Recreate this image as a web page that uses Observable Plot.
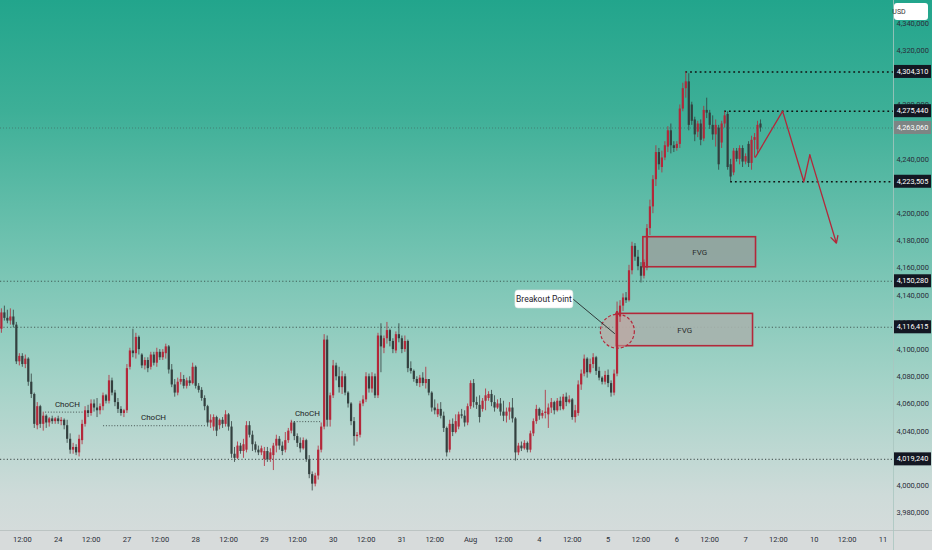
<!DOCTYPE html>
<html><head><meta charset="utf-8">
<script src="https://cdn.jsdelivr.net/npm/d3@7"></script>
<script src="https://cdn.jsdelivr.net/npm/@observablehq/plot@0.6"></script>
<style>
html,body{margin:0;padding:0;}
#chart{width:932px;height:550px;background:linear-gradient(to bottom,#22a58c 0%,#3daf97 20%,#70c2b0 45%,#a5d3c8 70%,#cedbd9 90%,#d8dcdc 100%);}
svg{display:block;}
</style></head><body><div id="chart"></div>
<script>
// ---- candle data (hourly bars, index 0..254) ----
const opens=[4115,4127,4123,4121,4124,4118,4091,4095,4089,4093,
4076,4067,4044,4058,4045,4051,4046,4049,4047,4049,
4047,4048,4044,4034,4026,4028,4024,4033,4045,4055,
4053,4060,4057,4055,4058,4066,4062,4077,4068,4061,
4056,4053,4055,4087,4099,4097,4109,4096,4088,4092,
4087,4096,4090,4098,4094,4097,4102,4085,4074,4068,
4076,4078,4073,4077,4075,4087,4073,4070,4064,4058,
4046,4043,4050,4044,4048,4045,4052,4043,4023,4020,
4029,4025,4026,4044,4037,4030,4026,4024,4019,4025,
4019,4022,4029,4034,4029,4026,4033,4040,4046,4036,
4031,4027,4033,4019,4008,4001,4007,4026,4043,4107,
4048,4066,4088,4080,4072,4080,4068,4060,4047,4036,
4037,4060,4063,4080,4071,4080,4066,4110,4101,4108,
4114,4106,4099,4111,4108,4100,4106,4086,4084,4078,
4075,4079,4075,4078,4068,4057,4052,4056,4051,4042,
4026,4045,4039,4043,4052,4051,4046,4058,4075,4061,
4059,4056,4062,4064,4067,4061,4057,4060,4054,4051,
4054,4057,4049,4024,4029,4027,4031,4026,4038,4047,
4056,4051,4053,4052,4057,4061,4055,4062,4056,4065,
4061,4063,4050,4053,4074,4082,4093,4083,4089,4094,
4084,4079,4076,4081,4075,4068,4082,4124,4132,4138,
4136,4158,4176,4168,4161,4154,4160,4189,4205,4225,
4245,4234,4241,4249,4261,4250,4248,4251,4277,4292,
4297,4280,4269,4260,4266,4255,4276,4274,4265,4258,
4263,4252,4266,4273,4236,4230,4246,4240,4248,4238,
4251,4237,4254,4247,4266];
const highs=[4130,4132,4129,4130,4129,4120,4097,4097,4096,4094,
4082,4068,4061,4059,4054,4052,4050,4051,4050,4051,
4050,4049,4048,4038,4031,4030,4037,4048,4058,4059,
4063,4063,4064,4060,4068,4067,4081,4079,4070,4064,
4058,4056,4089,4101,4115,4112,4110,4097,4094,4094,
4098,4098,4101,4100,4100,4104,4103,4089,4078,4079,
4083,4081,4079,4080,4090,4088,4075,4072,4066,4059,
4052,4052,4051,4049,4050,4055,4053,4047,4028,4032,
4031,4034,4047,4047,4040,4032,4029,4029,4028,4028,
4027,4031,4037,4036,4032,4039,4042,4048,4047,4038,
4035,4035,4034,4022,4010,4009,4029,4046,4111,4110,
4068,4092,4090,4087,4084,4082,4069,4061,4050,4039,
4062,4066,4083,4082,4083,4082,4112,4119,4110,4120,
4115,4108,4113,4119,4110,4110,4107,4091,4085,4080,
4081,4083,4087,4078,4069,4063,4060,4061,4054,4043,
4048,4049,4052,4054,4056,4055,4060,4077,4078,4065,
4066,4064,4071,4069,4070,4066,4063,4064,4062,4057,
4061,4064,4050,4031,4032,4033,4032,4040,4049,4059,
4057,4055,4070,4060,4064,4062,4064,4065,4067,4068,
4066,4064,4059,4077,4085,4096,4094,4093,4097,4095,
4087,4080,4084,4085,4077,4085,4135,4136,4141,4142,
4162,4179,4178,4173,4164,4166,4192,4210,4228,4250,
4248,4246,4253,4264,4266,4253,4253,4280,4296,4304.31,
4303,4282,4271,4268,4269,4279,4285,4276,4272,4269,
4265,4268,4275,4275,4240,4248,4248,4250,4250,4244,
4253,4257,4259,4268,4269];
const lows=[4112,4121,4119,4118,4116,4089,4088,4087,4086,4073,
4064,4042,4041,4042,4040,4042,4043,4045,4045,4045,
4044,4041,4031,4023,4023,4022,4021,4030,4043,4050,
4051,4054,4050,4052,4055,4060,4060,4066,4058,4053,
4051,4050,4053,4085,4094,4093,4096,4086,4085,4083,
4085,4088,4087,4092,4092,4093,4082,4072,4065,4066,
4074,4071,4071,4073,4074,4071,4068,4062,4055,4043,
4042,4040,4036,4041,4042,4043,4040,4020,4017,4019,
4023,4020,4024,4035,4025,4024,4022,4022,4014,4017,
4017,4011,4024,4026,4022,4024,4031,4038,4033,4028,
4024,4026,4017,4005,3996,3999,4004,4024,4041,4043,
4043,4064,4077,4068,4067,4066,4057,4044,4029,4032,
4035,4058,4061,4068,4068,4064,4064,4083,4097,4104,
4102,4097,4097,4105,4097,4098,4083,4082,4076,4073,
4072,4073,4071,4066,4054,4052,4050,4049,4039,4021,
4024,4036,4038,4041,4049,4043,4044,4056,4057,4056,
4046,4054,4055,4062,4058,4054,4056,4051,4047,4046,
4048,4046,4018,4022,4025,4026,4024,4024,4036,4045,
4048,4049,4049,4042,4053,4052,4054,4055,4055,4058,
4060,4048,4046,4051,4070,4080,4079,4082,4086,4081,
4077,4074,4074,4072,4065,4066,4080,4120,4128,4134,
4135,4155,4165,4158,4149,4152,4158,4184,4200,4220,
4232,4230,4239,4245,4244,4245,4246,4248,4275,4285,
4261,4265,4253,4256,4250,4253,4270,4262,4254,4249,
4232,4248,4263,4232,4223.5,4228,4238,4236,4234,4236,
4234,4232,4241,4244,4260];
const closes=[4127,4123,4121,4124,4118,4091,4095,4089,4093,4076,
4067,4045,4058,4045,4051,4046,4049,4047,4049,4047,
4048,4044,4034,4026,4028,4024,4034,4045,4055,4053,
4060,4057,4055,4058,4066,4062,4077,4068,4061,4056,
4053,4055,4086,4099,4097,4109,4100,4088,4092,4086,
4096,4090,4098,4094,4098,4102,4085,4074,4068,4076,
4078,4073,4077,4075,4087,4073,4070,4064,4058,4046,
4048,4050,4040,4048,4045,4052,4043,4023,4020,4029,
4025,4030,4044,4037,4030,4026,4024,4027,4025,4019,
4024,4029,4034,4029,4025,4033,4040,4046,4036,4031,
4027,4033,4019,4008,4001,4007,4026,4043,4107,4048,
4066,4088,4080,4072,4080,4068,4060,4047,4036,4037,
4060,4063,4080,4071,4080,4066,4110,4102,4108,4114,
4106,4100,4111,4108,4100,4106,4086,4084,4078,4075,
4079,4075,4078,4068,4057,4055,4056,4051,4042,4024,
4045,4039,4047,4052,4051,4046,4058,4075,4061,4059,
4050,4062,4066,4067,4061,4057,4060,4054,4051,4054,
4057,4049,4024,4029,4027,4031,4026,4038,4047,4056,
4051,4053,4054,4057,4061,4055,4062,4058,4065,4061,
4063,4050,4055,4074,4082,4093,4083,4089,4094,4084,
4079,4076,4081,4075,4068,4082,4128,4132,4138,4136,
4158,4176,4168,4161,4154,4164,4189,4205,4225,4245,
4236,4241,4250,4261,4250,4248,4251,4277,4292,4297,
4265,4268,4258,4266,4254,4276,4274,4265,4258,4265,
4236,4266,4272,4234,4227,4246,4240,4248,4238,4242,
4237,4254,4256,4265,4263.06];

// ---- time axis ----
const tickBars=[7,19,30,42,53,65,76,88,99,111,122,134,145,157,168,180,191,203,214,226,237,249,260,272,283,295];
const tickLabels=["12:00","24","12:00","27","12:00","28","12:00","29","12:00","30","12:00","31","12:00","Aug","12:00","4","12:00","5","12:00","6","12:00","7","12:00","10","12:00","11"];
// ---- price axis (ticks fully hidden under the level tags are left out) ----
const priceTicks=[3980,4000,4040,4060,4080,4100,4120,4140,4160,4180,4200,4240,4280,4320,4340];
const keyLevels=[4304.31,4275.44,4223.505];
const keyLevelStart=[229,242,244];
const wideLevels=[4150.28,4116.415,4019.24];
const lastPrice=4263.06;
// ---- annotations ----
const chochLevel=[4054,4044,4047];
const chochFrom=[14.8,34.2,97.1];
const chochTo=[28.1,68.3,107.4];
const chochTextBar=[22.1,50.9,102.4];
const fvgFrom=[214.8,205.8], fvgTo=[252.5,251.5], fvgLow=[4160.6,4102.5], fvgHigh=[4182.7,4126.3];
const fvgFill=["#95a39e","#a7b2ad"];
const breakoutBar=206.1, breakoutPrice=4113.5;
const labelBar=181.7, labelPrice=4136.9;
const pathBars=[252.3,261.4,268.5,270.5,279.4];
const pathPrices=[4241.6,4275.44,4223.505,4243.3,4178.3];

const UP="#b3283a", DOWN="#33403f";
const bars=opens.map((o,i)=>({i,o,h:highs[i],l:lows[i],c:closes[i]}));
const col=d=>d.c>=d.o?UP:DOWN;
const fmtPrice=v=>d3.format(",.3f")(v).replace(".",",");
const tickMap=new Map(tickBars.map((b,k)=>[b,tickLabels[k]]));
const X0=-0.3, X1=298.5;
const keyRows=keyLevels.map((v,k)=>({v,from:keyLevelStart[k]}));
const chochRows=chochLevel.map((v,k)=>({v,from:chochFrom[k],to:chochTo[k],t:chochTextBar[k]}));
const fvgRows=fvgFrom.map((f,k)=>({x1:f,x2:fvgTo[k],y1:fvgLow[k],y2:fvgHigh[k],fill:fvgFill[k]}));
const pathRows=pathBars.map((b,k)=>({x:b,y:pathPrices[k]}));
const FONT='Roboto, "DejaVu Sans", sans-serif';

const plot=Plot.plot({
  width:932,height:550,marginLeft:0,marginRight:39,marginTop:0,marginBottom:20,
  style:{background:"transparent",fontFamily:FONT,fontSize:"7.5px",color:"#2a2e39",overflow:"visible"},
  x:{type:"linear",domain:[X0,X1]},
  y:{type:"linear",domain:[3966.89,4356.88]},
  marks:[
    Plot.ruleY([lastPrice],{stroke:"#3a4a4a",strokeOpacity:0.45,strokeDasharray:"1,2",strokeWidth:1}),
    Plot.ruleY(wideLevels,{stroke:"#27302f",strokeOpacity:0.7,strokeDasharray:"1.2,2.2",strokeWidth:1.1}),
    Plot.ruleY(keyRows,{y:"v",x1:"from",x2:()=>X1,stroke:"#111",strokeWidth:1.6,strokeDasharray:"1.8,3"}),
    Plot.ruleY(chochRows,{y:"v",x1:"from",x2:"to",stroke:"#2b3333",strokeOpacity:0.8,strokeDasharray:"1,1.8",strokeWidth:1}),
    Plot.rect(fvgRows,{x1:"x1",x2:"x2",y1:"y1",y2:"y2",fill:"fill",fillOpacity:0.9,stroke:UP,strokeWidth:1.6}),
    Plot.dot([{x:breakoutBar,y:breakoutPrice}],{x:"x",y:"y",r:17,fill:"#c7a29f",fillOpacity:0.55,stroke:UP,strokeWidth:1.2,strokeDasharray:"3,2"}),
    Plot.ruleX(bars,{x:"i",y1:"l",y2:"h",stroke:col,strokeWidth:1,strokeOpacity:0.8}),
    Plot.ruleX(bars,{x:"i",y1:"o",y2:"c",stroke:col,strokeWidth:2.2,strokeLinecap:"butt"}),
    Plot.line(pathRows.slice(0,4),{x:"x",y:"y",stroke:UP,strokeWidth:1.3}),
    Plot.arrow([{x1:pathBars[3],y1:pathPrices[3],x2:pathBars[4],y2:pathPrices[4]}],{x1:"x1",y1:"y1",x2:"x2",y2:"y2",stroke:UP,strokeWidth:1.3,headLength:9,headAngle:55}),
    Plot.text(chochRows,{x:"t",y:"v",text:()=>"ChoCH",dy:-8,fontSize:8,fill:"#1e2424"}),
    Plot.text(fvgRows,{x:d=>(d.x1+d.x2)/2,y:d=>(d.y1+d.y2)/2,text:()=>"FVG",fontSize:8,fill:"#2a2e2e"}),
    Plot.axisX({ticks:tickBars,tickSize:0,tickPadding:6,tickFormat:d=>tickMap.get(d),fontSize:7.5}),
    Plot.axisY({anchor:"right",ticks:priceTicks,tickSize:0,tickPadding:3,tickFormat:fmtPrice,fontSize:7.5})
  ]
});
document.getElementById("chart").appendChild(plot);

// ---- overlays positioned with the plot's own scales ----
const svg=d3.select(plot);
const xs=plot.scale("x"), ys=plot.scale("y");
const px=v=>xs.apply(v), py=v=>ys.apply(v);
const right=px(X1);
svg.insert("rect",":first-child").attr("x",0).attr("y",530).attr("width",932).attr("height",20).attr("fill","#d7dbdb");
svg.append("line").attr("x1",0).attr("x2",932).attr("y1",530.5).attr("y2",530.5).attr("stroke","#bcc4c3");
svg.append("line").attr("x1",right+0.5).attr("x2",right+0.5).attr("y1",0).attr("y2",550).attr("stroke","#a9c6bf").attr("stroke-opacity",0.8);

// breakout label + connector
const bx=px(labelBar), by=py(labelPrice);
svg.append("line").attr("x1",bx+29).attr("y1",by).attr("x2",px(breakoutBar)-2).attr("y2",py(breakoutPrice)+3).attr("stroke","#2f3a3a").attr("stroke-width",1);
svg.append("rect").attr("x",bx-29).attr("y",by-9).attr("width",58).attr("height",18).attr("rx",3).attr("fill","#ffffff").attr("stroke","#dfe3e3").attr("stroke-width",0.6);
svg.append("text").attr("x",bx).attr("y",by).attr("dy","0.35em").attr("text-anchor","middle").attr("font-family",FONT).attr("font-size",8.5).attr("fill","#1e222d").text("Breakout Point");

// price labels on the axis
const tags=[...keyLevels.map(v=>({v,bg:"#131722"})),...wideLevels.map(v=>({v,bg:"#131722"})),{v:lastPrice,bg:"#7d8584"}];
tags.forEach(t=>{
  const y=py(t.v);
  svg.append("rect").attr("x",right+1).attr("y",y-6.5).attr("width",37).attr("height",13).attr("fill",t.bg);
  svg.append("text").attr("x",right+19.5).attr("y",y).attr("dy","0.35em").attr("text-anchor","middle").attr("font-family",FONT).attr("font-size",7.3).attr("fill","#ffffff").text(fmtPrice(t.v));
});
// currency box
svg.append("rect").attr("x",right+1).attr("y",3).attr("width",34).attr("height",17).attr("rx",3).attr("fill","#ffffff");
svg.append("text").attr("x",right+6).attr("y",11.5).attr("dy","0.35em").attr("font-family",FONT).attr("font-size",7).attr("fill","#333").text("USD");
</script>
</body></html>
